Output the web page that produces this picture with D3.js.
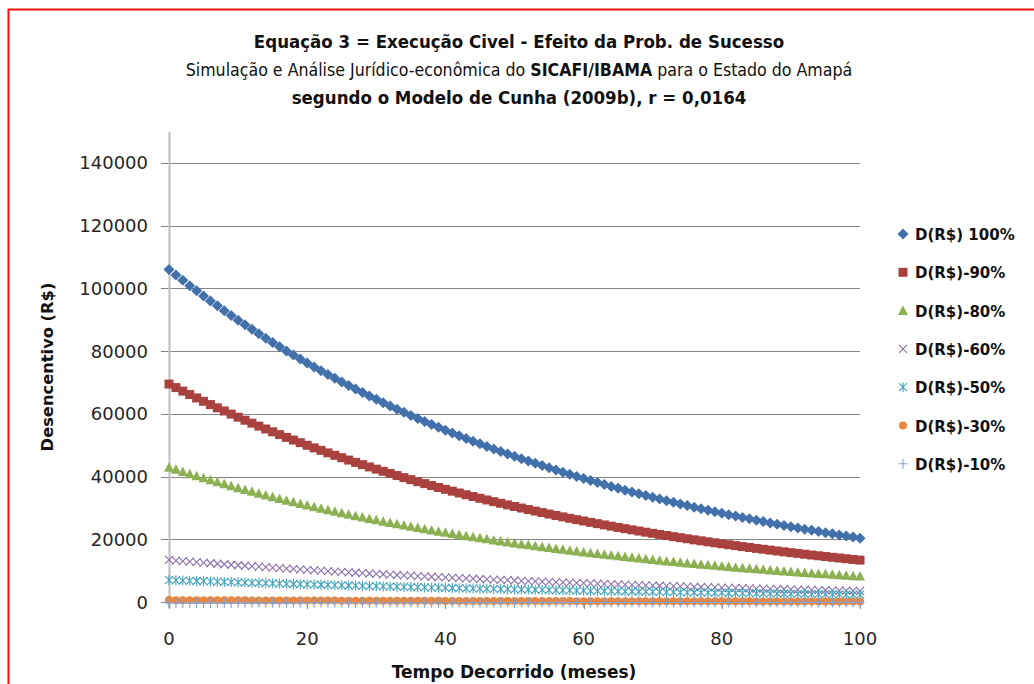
<!DOCTYPE html>
<html>
<head>
<meta charset="utf-8">
<script src="https://cdn.jsdelivr.net/npm/d3@7"></script>
<style>
  body { margin: 0; background: #fff; }
  svg { display: block; }
</style>
</head>
<body>
<svg id="chart" width="1034" height="684"></svg>
<script>
// Months elapsed (x categories)
const months = d3.range(0, 101);

// Desincentivo (R$) per probability of success
const s100 = [106000,104270,102560,100880,99230,97610,96010,94440,92890,91370,
  89880,88410,86960,85540,84140,82760,81400,80070,78760,77470,
  76210,74960,73730,72530,71340,70170,69020,67890,66780,65690,
  64620,63560,62520,61490,60490,59500,58520,57570,56630,55700,
  54790,53890,53010,52140,51290,50450,49620,48810,48010,47230,
  46450,45690,44950,44210,43490,42770,42070,41390,40710,40040,
  39390,38740,38110,37490,36870,36270,35670,35090,34520,33950,
  33400,32850,32310,31780,31260,30750,30250,29750,29270,28790,
  28320,27850,27400,26950,26510,26070,25650,25230,24810,24410,
  24010,23620,23230,22850,22480,22110,21750,21390,21040,20700,
  20360];

const s90 = [69500,68370,67250,66150,65070,64000,62950,61920,60910,59910,
  58930,57970,57020,56090,55170,54270,53370,52500,51640,50800,
  49970,49150,48350,47560,46780,46010,45260,44520,43790,43070,
  42370,41680,40990,40320,39660,39010,38370,37750,37130,36520,
  35930,35340,34760,34190,33630,33080,32540,32000,31480,30970,
  30460,29960,29470,28990,28520,28040,27590,27140,26690,26250,
  25830,25400,24990,24580,24180,23780,23390,23010,22630,22260,
  21900,21540,21190,20840,20500,20160,19830,19510,19190,18880,
  18570,18260,17970,17670,17380,17090,16820,16540,16270,16010,
  15740,15490,15230,14980,14740,14500,14260,14030,13800,13570,
  13350];

const s80 = [43000,42300,41600,40920,40250,39600,38950,38310,37680,37070,
  36460,35860,35280,34700,34130,33570,33020,32480,31950,31430,
  30920,30410,29910,29420,28940,28470,28000,27540,27090,26650,
  26210,25780,25360,24940,24540,24140,23740,23350,22970,22600,
  22230,21860,21500,21150,20810,20470,20130,19800,19480,19160,
  18840,18530,18230,17930,17640,17350,17070,16790,16510,16240,
  15980,15720,15460,15210,14960,14710,14470,14230,14000,13770,
  13550,13330,13110,12890,12680,12470,12270,12070,11870,11680,
  11490,11300,11120,10930,10750,10580,10410,10240,10060,9900,
  9740,9580,9420,9270,9120,8970,8820,8680,8540,8400,
  8260];

const s60 = [13400,13220,13050,12870,12700,12530,12360,12200,12040,11880,
  11720,11560,11410,11260,11110,10960,10810,10670,10530,10390,
  10250,10110,9980,9850,9720,9590,9460,9330,9210,9090,
  8970,8850,8730,8610,8500,8380,8270,8160,8050,7950,
  7840,7740,7630,7530,7430,7330,7230,7140,7040,6950,
  6860,6770,6680,6590,6500,6410,6330,6240,6160,6080,
  6000,5920,5840,5760,5680,5610,5530,5460,5390,5320,
  5250,5180,5110,5040,4970,4910,4840,4780,4710,4650,
  4590,4530,4470,4410,4350,4290,4230,4180,4120,4070,
  4010,3960,3910,3850,3800,3750,3700,3650,3600,3560,
  3510];

const s50 = [7000,6920,6850,6770,6700,6630,6550,6480,6410,6340,
  6270,6200,6130,6070,6000,5940,5870,5810,5740,5680,
  5620,5560,5500,5440,5380,5320,5260,5200,5140,5090,
  5030,4980,4920,4870,4820,4760,4710,4660,4610,4560,
  4510,4460,4410,4360,4310,4270,4220,4170,4130,4080,
  4040,3990,3950,3910,3870,3820,3780,3740,3700,3660,
  3620,3580,3540,3500,3460,3420,3390,3350,3310,3280,
  3240,3210,3170,3140,3100,3070,3030,3000,2970,2940,
  2900,2870,2840,2810,2780,2750,2720,2690,2660,2630,
  2600,2570,2540,2520,2490,2460,2430,2410,2380,2360,
  2330];

const s30 = [600,592,585,577,570,562,555,548,541,534,
  527,520,514,507,500,494,487,481,475,469,
  463,457,451,445,439,434,428,422,417,412,
  406,401,396,391,386,380,375,371,366,361,
  357,352,348,343,339,334,330,326,322,317,
  313,309,305,301,297,293,290,286,282,279,
  275,271,268,264,261,258,254,251,248,245,
  242,239,235,232,229,226,224,221,218,215,
  212,209,207,204,201,199,196,194,191,189,
  186,184,182,179,177,175,172,170,168,166,
  164];

const s10 = [-300,-298,-296,-294,-292,-290,-288,-286,-284,-282,
  -280,-278,-276,-274,-272,-270,-268,-266,-264,-262,
  -260,-258,-256,-254,-252,-250,-248,-246,-244,-242,
  -240,-238,-236,-234,-232,-230,-228,-226,-224,-222,
  -220,-218,-216,-214,-212,-210,-208,-206,-204,-202,
  -200,-198,-196,-194,-192,-190,-188,-186,-184,-182,
  -180,-179,-177,-176,-174,-173,-171,-170,-168,-167,
  -165,-164,-162,-161,-159,-158,-156,-155,-153,-152,
  -150,-149,-147,-146,-144,-143,-141,-140,-138,-137,
  -135,-134,-132,-131,-129,-128,-126,-125,-123,-122,
  -120];

const seriesNames = ["D(R$) 100%", "D(R$)-90%", "D(R$)-80%", "D(R$)-60%", "D(R$)-50%", "D(R$)-30%", "D(R$)-10%"];
const seriesValues = [s100, s90, s80, s60, s50, s30, s10];

const yTickValues = [0, 20000, 40000, 60000, 80000, 100000, 120000, 140000];
const xTickValues = [0, 20, 40, 60, 80, 100];

// Title lines as runs of [text, bold?]
const titleLines = [
  [["Equação 3 = Execução Civel - Efeito da Prob. de Sucesso", true]],
  [["Simulação e Análise Jurídico-econômica do ", false], ["SICAFI/IBAMA", true], [" para o Estado do Amapá", false]],
  [["segundo o Modelo de Cunha (2009b), r = 0,0164", true]]
];
const xTitle = "Tempo Decorrido (meses)";
const yTitle = "Desencentivo (R$)";

// Marker styles for each series
const markerStyles = [
  { path: "M0,-5.5L5.5,0L0,5.5L-5.5,0Z", fill: "#4170AB", stroke: "none" },
  { path: "M-4.5,-4.5H4.5V4.5H-4.5Z", fill: "#A9423F", stroke: "none" },
  { path: "M0,-5L5,4.5L-5,4.5Z", fill: "#8DB052", stroke: "none" },
  { path: "M-4,-4L4,4M-4,4L4,-4", fill: "none", stroke: "#8C72AE" },
  { path: "M-4,-4L4,4M-4,4L4,-4M0,-5V5", fill: "none", stroke: "#45A5BE" },
  { path: "M-4,0A4,4 0 1,0 4,0A4,4 0 1,0 -4,0Z", fill: "#E8863E", stroke: "none" },
  { path: "M-4.5,0H4.5M0,-5V5", fill: "none", stroke: "#86A3D3" }
];

const svg = d3.select("#chart");

// Outer frame (top and left red rules)
svg.append("line").attr("x1", 8).attr("y1", 9.5).attr("x2", 1034).attr("y2", 9.5)
  .attr("stroke", "#ee1111").attr("stroke-width", 2);
svg.append("line").attr("x1", 8.5).attr("y1", 9).attr("x2", 8.5).attr("y2", 684)
  .attr("stroke", "#ee1111").attr("stroke-width", 2);

const x = d3.scaleLinear().domain([0, 100]).range([169, 860]);
const y = d3.scaleLinear().domain([0, 150000]).range([602, 131.6]);

// Title
const titleG = svg.append("g")
  .attr("font-family", "'DejaVu Sans Condensed', 'DejaVu Sans', sans-serif")
  .attr("font-stretch", "condensed")
  .attr("fill", "#111")
  .attr("text-anchor", "middle");
const titleSizes = [18.5, 17.6, 18.5];
titleLines.forEach((runs, i) => {
  const t = titleG.append("text").attr("x", 519).attr("y", 48 + i * 28)
    .attr("font-size", titleSizes[i]);
  runs.forEach(([txt, bold]) => {
    t.append("tspan").attr("font-weight", bold ? "bold" : "normal").text(txt);
  });
});

// Horizontal gridlines with tick stubs on the left
const grid = svg.append("g");
grid.selectAll("line").data(yTickValues).join("line")
  .attr("x1", 161).attr("x2", 860)
  .attr("y1", d => Math.round(y(d)) + 0.5)
  .attr("y2", d => Math.round(y(d)) + 0.5)
  .attr("stroke", "#868686").attr("stroke-width", 1);

// Vertical axis line
svg.append("line")
  .attr("x1", 169.5).attr("x2", 169.5)
  .attr("y1", Math.round(y(150000))).attr("y2", 608)
  .attr("stroke", "#bdbdbd").attr("stroke-width", 2);

// X tick marks below the zero line
svg.append("g").selectAll("line").data(xTickValues).join("line")
  .attr("x1", d => Math.round(x(d)) + 0.5).attr("x2", d => Math.round(x(d)) + 0.5)
  .attr("y1", 602).attr("y2", 609)
  .attr("stroke", "#868686").attr("stroke-width", 1);

// Tick labels
const tickFont = "'DejaVu Sans', sans-serif";
svg.append("g").selectAll("text").data(yTickValues).join("text")
  .attr("x", 148).attr("y", d => y(d) + 6.5)
  .attr("text-anchor", "end")
  .attr("font-family", tickFont).attr("font-size", 18).attr("fill", "#262626")
  .text(d => d3.format("d")(d));
svg.append("g").selectAll("text").data(xTickValues).join("text")
  .attr("x", d => x(d)).attr("y", 645)
  .attr("text-anchor", "middle")
  .attr("font-family", tickFont).attr("font-size", 18).attr("fill", "#262626")
  .text(d => d);

// Axis titles
svg.append("text")
  .attr("transform", "translate(53,367) rotate(-90)")
  .attr("text-anchor", "middle")
  .attr("font-family", tickFont).attr("font-weight", "bold").attr("font-size", 16.3)
  .attr("fill", "#111")
  .text(yTitle);
svg.append("text")
  .attr("x", 514).attr("y", 678)
  .attr("text-anchor", "middle")
  .attr("font-family", tickFont).attr("font-weight", "bold").attr("font-size", 17)
  .attr("fill", "#111")
  .text(xTitle);

// Series markers
const marks = svg.append("g");
seriesValues.forEach((vals, si) => {
  const st = markerStyles[si];
  marks.append("g").selectAll("path").data(months).join("path")
    .attr("transform", m => `translate(${x(m)},${y(vals[m])})`)
    .attr("d", st.path)
    .attr("fill", st.fill)
    .attr("stroke", st.stroke)
    .attr("stroke-width", 1.1);
});

// Legend
const legend = svg.append("g");
seriesNames.forEach((name, i) => {
  const cy = 234 + i * 38.3;
  const st = markerStyles[i];
  legend.append("path")
    .attr("transform", `translate(903,${cy})`)
    .attr("d", st.path).attr("fill", st.fill).attr("stroke", st.stroke).attr("stroke-width", 1.1);
  legend.append("text")
    .attr("x", 915).attr("y", cy + 6)
    .attr("font-family", tickFont).attr("font-weight", "bold").attr("font-size", 15)
    .attr("fill", "#111")
    .text(name);
});
</script>
</body>
</html>
